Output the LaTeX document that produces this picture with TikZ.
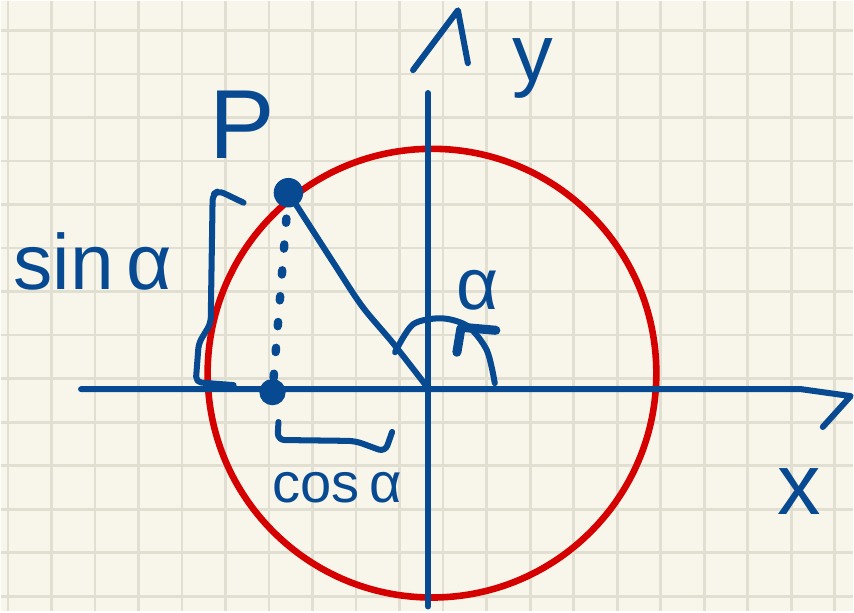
\documentclass[tikz,border=0pt]{standalone}
\usepackage{fontspec}
\setmainfont{Liberation Sans}
\usepackage{tikz}
\usetikzlibrary{calc}
\definecolor{ink}{HTML}{074A91}
\definecolor{penred}{HTML}{D50000}
\definecolor{paper}{HTML}{F8F6EA}
\definecolor{gridln}{HTML}{E1DFD2}
\tikzset{
  pen/.style={draw=ink,line width=4.3pt,line cap=round,line join=round},
  redpen/.style={draw=penred,line width=4.7pt},
  dotpen/.style={draw=ink,line width=6pt,line cap=round,dash pattern=on 3pt off 15.5pt},
  lbl/.style={text=ink,inner sep=0pt},
}

\begin{document}
\begin{tikzpicture}[x=0.025cm,y=-0.025cm]

% ---- paper with grid
\fill[paper] (0,0) rectangle (854,612);
\foreach \i in {0,...,19}
  \draw[gridln,line width=1.9pt] ({6.7+43.65*\i},0) -- ({6.7+43.65*\i},612);
\foreach \j in {0,...,13}
  \draw[gridln,line width=1.9pt] (0,{29.3+43.65*\j}) -- (854,{29.3+43.65*\j});

% ---- points
\coordinate (O) at (428,388);
\coordinate (C) at (432,373);
\coordinate (P) at (288,192);
\coordinate (Q) at (272,392);

% ---- unit circle
\draw[redpen] (C) circle[radius=5.625cm];

% ---- axes
\draw[pen] (80,389) -- (802,389) -- (852,396) -- (824,427);
\draw[pen] (428,607) -- (428,92);
\draw[pen] (413,69) -- (458,9) -- (468,62);
\node[lbl,font=\fontsize{62}{64}\selectfont] (xlbl) at (800,492) {x};
\node[lbl,font=\fontsize{58}{60}\selectfont,anchor=base] (ylbl) at (533,80) {y};

% ---- P and its projection
\draw[dotpen] (P) -- (Q);
\draw[pen] plot[smooth] coordinates {(P) (333,262) (362,306) (393,343) (O)};
\fill[ink] (P) circle[radius=0.37cm];
\fill[ink] (Q) circle[radius=0.33cm];
\node[lbl,font=\fontsize{70}{72}\selectfont] (plbl) at (242,124) {P};

% ---- angle
\draw[pen] plot[smooth] coordinates {(395,352) (413,324) (442,318) (468,326) (487,350) (495,383)};
\draw[pen,line width=6.5pt] (462,327) -- (496,330);
\draw[pen,line width=6.5pt] (461,328) -- (457,352);
\node[lbl,font=\fontsize{52}{54}\selectfont] (albl) at (478,290) {α};

% ---- brackets
\draw[pen,rounded corners=4pt] (243,202) -- (218,190) -- (212,194) -- (210,323) -- (198,343) -- (195,382) -- (233,385);
\node[lbl,font=\fontsize{56}{58}\selectfont,anchor=base west] (sinlbl) at (12,289) {sin\,α};
\draw[pen,rounded corners=5pt] (278,422) -- (277,440) -- (355,441) -- (385,452) -- (392,432);
\node[lbl,font=\fontsize{40}{42}\selectfont,anchor=base west] (coslbl) at (272,503) {cos\,α};

\end{tikzpicture}
\end{document}
